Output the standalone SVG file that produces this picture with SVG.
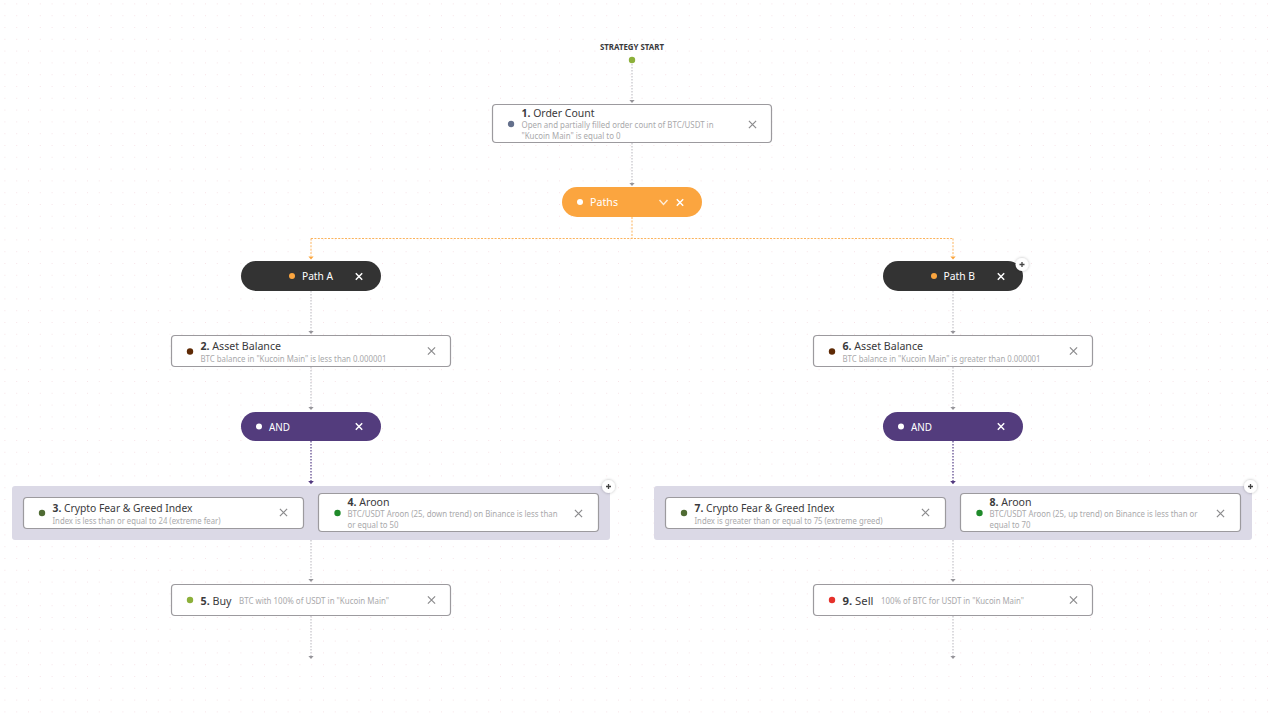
<svg xmlns="http://www.w3.org/2000/svg" width="1273" height="721" viewBox="0 0 1273 721">
<style>
text{font-family:"Noto Sans","Lato","Liberation Sans",sans-serif}
.card{fill:#fff;stroke:#9c9a9e;stroke-width:1.2}
.t{font-size:11px;fill:#3a3a3c}
.t tspan.n{font-weight:700}
.s{font-size:8.8px;fill:#a9a9ab}
.pl{font-size:10.5px;fill:#fff}
.x{stroke:#8b8b8d;stroke-width:1.2;fill:none}
.xw{stroke:#fff;stroke-width:1.5;fill:none}
.grey{stroke:#cfced3;stroke-width:1.5;stroke-dasharray:1.6 1.4;fill:none}
.pur{stroke:#7766a0;stroke-width:1.5;stroke-dasharray:1.6 1.4;fill:none}
.org{stroke:#fbb35c;stroke-width:1;stroke-dasharray:2 1.4;fill:none}
.plus{stroke:#444;stroke-width:1.3}
</style>
<defs>
<pattern id="grid" x="4.4" y="3.4" width="11.8" height="11.8" patternUnits="userSpaceOnUse"><rect width="1" height="1" fill="#f7e4e8"/></pattern>
<path id="ag" d="M-2.600,0H2.600L0,3Z" fill="#96959a"/>
<path id="ap" d="M-2.800,0H2.800L0,3.200Z" fill="#53397f"/>
<path id="ao" d="M-2.600,0H2.600L0,3Z" fill="#fba53c"/>
<path id="xm" d="M-3.6,-3.6L3.6,3.6M-3.6,3.6L3.6,-3.6"/>
<path id="xs" d="M-3.2,-3.2L3.2,3.2M-3.2,3.2L3.2,-3.2"/>
<filter id="sh" x="-50%" y="-50%" width="200%" height="200%"><feDropShadow dx="0" dy="0" stdDeviation="1.5" flood-color="#000" flood-opacity="0.3"/></filter>
<g id="plusbtn"><circle r="6.5" fill="#fff" filter="url(#sh)"/><path class="plus" d="M-2.5,0H2.5M0,-2.5V2.5"/></g>
</defs>
<rect width="1273" height="721" fill="#fff"/>
<rect width="1273" height="721" fill="url(#grid)"/>

<g id="groups">
<rect x="12" y="486" width="598" height="54" rx="3" fill="#dbd9e6"/>
<rect x="654" y="486" width="598" height="54" rx="3" fill="#dbd9e6"/>
</g>

<g id="connectors">
<path class="grey" d="M632,64V100M632,143V183M311,291V331M311,367V407M953,291V331M953,367V407M311,540V579M311,616V656M953,540V579M953,616V656"/>
<path class="org" d="M632,217V238.500M311,238.500H953M311,238.500V256M953,238.500V256"/>
<path class="pur" d="M311,441V481M953,441V481"/>
<use href="#ag" x="632" y="100"/><use href="#ag" x="632" y="183"/>
<use href="#ao" x="311" y="256.500"/><use href="#ao" x="953" y="256.500"/>
<use href="#ag" x="311" y="331"/><use href="#ag" x="953" y="331"/>
<use href="#ag" x="311" y="407"/><use href="#ag" x="953" y="407"/>
<use href="#ap" x="311" y="481"/><use href="#ap" x="953" y="481"/>
<use href="#ag" x="311" y="579"/><use href="#ag" x="953" y="579"/>
<use href="#ag" x="311" y="656"/><use href="#ag" x="953" y="656"/>
</g>

<g id="start">
<text x="632" y="50" text-anchor="middle" font-size="9" font-weight="700" fill="#3a3a3c" textLength="64" lengthAdjust="spacingAndGlyphs">STRATEGY START</text>
<circle cx="632" cy="60" r="3.200" fill="#8cb03a"/>
</g>

<g id="n1">
<rect class="card" x="492.500" y="104.500" width="279" height="38" rx="3.500"/>
<circle cx="511" cy="124" r="3.200" fill="#64708c"/>
<text class="t" x="521.500" y="117" textLength="73" lengthAdjust="spacingAndGlyphs"><tspan class="n">1.</tspan> Order Count</text>
<text class="s" x="521.500" y="128" textLength="192" lengthAdjust="spacingAndGlyphs">Open and partially filled order count of BTC/USDT in</text>
<text class="s" x="521.500" y="139" textLength="99" lengthAdjust="spacingAndGlyphs">"Kucoin Main" is equal to 0</text>
<use href="#xm" class="x" x="752.500" y="124.500"/>
</g>

<g id="paths">
<rect x="562" y="187" width="140" height="30" rx="15" fill="#fba53f"/>
<circle cx="580" cy="202" r="3" fill="#fff"/>
<text class="pl" x="590" y="206" textLength="28" lengthAdjust="spacingAndGlyphs">Paths</text>
<path d="M659.500,200L663.500,204.500L667.500,200" fill="none" stroke="#fff" stroke-width="1.400" opacity="0.8"/>
<use href="#xs" class="xw" x="680" y="202.500"/>
</g>

<g id="pathA">
<rect x="241" y="261" width="140" height="30" rx="15" fill="#333333"/>
<circle cx="292" cy="276" r="3" fill="#fba53f"/>
<text class="pl" x="302" y="280" textLength="31" lengthAdjust="spacingAndGlyphs">Path A</text>
<use href="#xs" class="xw" x="359" y="276.500"/>
</g>

<g id="pathB">
<rect x="883" y="261" width="140" height="30" rx="15" fill="#333333"/>
<circle cx="934" cy="276" r="3" fill="#fba53f"/>
<text class="pl" x="943.500" y="280" textLength="31.500" lengthAdjust="spacingAndGlyphs">Path B</text>
<use href="#xs" class="xw" x="1001" y="276.500"/>
<use href="#plusbtn" x="1022" y="264.500"/>
</g>

<g id="n2">
<rect class="card" x="171.500" y="335.500" width="279" height="31" rx="3.500"/>
<circle cx="190" cy="351.500" r="3.200" fill="#5e2a05"/>
<text class="t" x="200.500" y="350" textLength="80.500" lengthAdjust="spacingAndGlyphs"><tspan class="n">2.</tspan> Asset Balance</text>
<text class="s" x="200.500" y="362" textLength="186" lengthAdjust="spacingAndGlyphs">BTC balance in "Kucoin Main" is less than 0.000001</text>
<use href="#xm" class="x" x="431.500" y="351"/>
</g>

<g id="n6">
<rect class="card" x="813.500" y="335.500" width="279" height="31" rx="3.500"/>
<circle cx="832" cy="351.500" r="3.200" fill="#5e2a05"/>
<text class="t" x="842.500" y="350" textLength="80.500" lengthAdjust="spacingAndGlyphs"><tspan class="n">6.</tspan> Asset Balance</text>
<text class="s" x="842.500" y="362" textLength="198" lengthAdjust="spacingAndGlyphs">BTC balance in "Kucoin Main" is greater than 0.000001</text>
<use href="#xm" class="x" x="1073.500" y="351"/>
</g>

<g id="andA">
<rect x="241" y="412" width="140" height="29" rx="14.500" fill="#533c7d"/>
<circle cx="259" cy="426.500" r="3" fill="#fff"/>
<text class="pl" x="269" y="431" textLength="21" lengthAdjust="spacingAndGlyphs">AND</text>
<use href="#xs" class="xw" x="359" y="426.500"/>
</g>

<g id="andB">
<rect x="883" y="412" width="140" height="29" rx="14.500" fill="#533c7d"/>
<circle cx="901" cy="426.500" r="3" fill="#fff"/>
<text class="pl" x="911" y="431" textLength="21" lengthAdjust="spacingAndGlyphs">AND</text>
<use href="#xs" class="xw" x="1001" y="426.500"/>
</g>

<g id="n3">
<rect class="card" x="23.500" y="497.500" width="280" height="31" rx="3.500"/>
<circle cx="42" cy="513" r="3.200" fill="#4f6b33"/>
<text class="t" x="52.500" y="512" textLength="140" lengthAdjust="spacingAndGlyphs"><tspan class="n">3.</tspan> Crypto Fear &amp; Greed Index</text>
<text class="s" x="52.500" y="524" textLength="168" lengthAdjust="spacingAndGlyphs">Index is less than or equal to 24 (extreme fear)</text>
<use href="#xm" class="x" x="283.500" y="512.500"/>
</g>

<g id="n4">
<rect class="card" x="318.500" y="493.500" width="280" height="38" rx="3.500"/>
<circle cx="337.500" cy="513" r="3.200" fill="#1f8a2a"/>
<text class="t" x="347.500" y="506" textLength="42" lengthAdjust="spacingAndGlyphs"><tspan class="n">4.</tspan> Aroon</text>
<text class="s" x="347.500" y="517" textLength="210" lengthAdjust="spacingAndGlyphs">BTC/USDT Aroon (25, down trend) on Binance is less than</text>
<text class="s" x="347.500" y="528" textLength="51" lengthAdjust="spacingAndGlyphs">or equal to 50</text>
<use href="#xm" class="x" x="578.500" y="513.500"/>
<use href="#plusbtn" x="608.500" y="486.500"/>
</g>

<g id="n7">
<rect class="card" x="665.500" y="497.500" width="280" height="31" rx="3.500"/>
<circle cx="684" cy="513" r="3.200" fill="#4f6b33"/>
<text class="t" x="694.500" y="512" textLength="140" lengthAdjust="spacingAndGlyphs"><tspan class="n">7.</tspan> Crypto Fear &amp; Greed Index</text>
<text class="s" x="694.500" y="524" textLength="188" lengthAdjust="spacingAndGlyphs">Index is greater than or equal to 75 (extreme greed)</text>
<use href="#xm" class="x" x="925.500" y="512.500"/>
</g>

<g id="n8">
<rect class="card" x="960.500" y="493.500" width="280" height="38" rx="3.500"/>
<circle cx="979.500" cy="513" r="3.200" fill="#1f8a2a"/>
<text class="t" x="989.500" y="506" textLength="42" lengthAdjust="spacingAndGlyphs"><tspan class="n">8.</tspan> Aroon</text>
<text class="s" x="989.500" y="517" textLength="208" lengthAdjust="spacingAndGlyphs">BTC/USDT Aroon (25, up trend) on Binance is less than or</text>
<text class="s" x="989.500" y="528" textLength="41" lengthAdjust="spacingAndGlyphs">equal to 70</text>
<use href="#xm" class="x" x="1220.500" y="513.500"/>
<use href="#plusbtn" x="1250.500" y="486.500"/>
</g>

<g id="n5">
<rect class="card" x="171.500" y="584.500" width="279" height="31" rx="3.500"/>
<circle cx="190" cy="600" r="3.200" fill="#8cb03a"/>
<text class="t" x="200.500" y="605" textLength="31" lengthAdjust="spacingAndGlyphs"><tspan class="n">5.</tspan> Buy</text>
<text class="s" x="239" y="604" textLength="150" lengthAdjust="spacingAndGlyphs">BTC with 100% of USDT in "Kucoin Main"</text>
<use href="#xm" class="x" x="431.500" y="600"/>
</g>

<g id="n9">
<rect class="card" x="813.500" y="584.500" width="279" height="31" rx="3.500"/>
<circle cx="832" cy="600" r="3.200" fill="#e5312b"/>
<text class="t" x="842.500" y="605" textLength="31" lengthAdjust="spacingAndGlyphs"><tspan class="n">9.</tspan> Sell</text>
<text class="s" x="881" y="604" textLength="143" lengthAdjust="spacingAndGlyphs">100% of BTC for USDT in "Kucoin Main"</text>
<use href="#xm" class="x" x="1073.500" y="600"/>
</g>
</svg>
